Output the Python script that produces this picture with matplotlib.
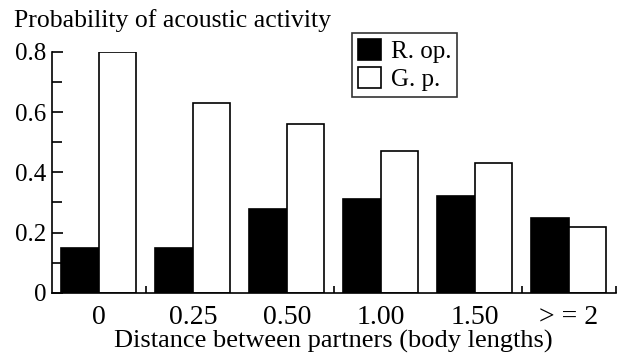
import numpy as np
import matplotlib.pyplot as plt
from matplotlib.ticker import MultipleLocator, FixedLocator

# data
categories = ["0", "0.25", "0.50", "1.00", "1.50", "> = 2"]
r_op = [0.15, 0.15, 0.28, 0.31, 0.32, 0.25]
g_p = [0.80, 0.63, 0.56, 0.47, 0.43, 0.22]

plt.rcParams['font.family'] = ['Liberation Serif', 'DejaVu Serif']

fig = plt.figure(figsize=(6.17, 3.58), dpi=100)
ax = fig.add_axes([0.084, 0.182, 0.914, 0.673])

x = np.arange(len(categories))
w = 0.4
ax.bar(x - w / 2, r_op, w, color="black", edgecolor="black", linewidth=1.2, label="R. op.")
ax.bar(x + w / 2, g_p, w, color="white", edgecolor="black", linewidth=1.2, label="G. p.")

ax.set_xlim(-0.5, 5.5)
ax.set_ylim(0, 0.8)
ax.spines['top'].set_visible(False)
ax.spines['right'].set_visible(False)
ax.spines['left'].set_linewidth(1.2)
ax.spines['bottom'].set_linewidth(1.2)

ax.set_yticks([0, 0.2, 0.4, 0.6, 0.8])
ax.set_yticklabels(["0", "0.2", "0.4", "0.6", "0.8"])
ax.yaxis.set_minor_locator(MultipleLocator(0.1))
ax.tick_params(axis='y', which='major', direction='in', length=8, width=1.2, labelsize=18, pad=4)
ax.tick_params(axis='y', which='minor', direction='in', length=7, width=1.2)

ax.set_xticks(x)
ax.set_xticklabels(categories)
ax.xaxis.set_minor_locator(FixedLocator([0.5, 2.5, 4.5, 5.5]))
ax.tick_params(axis='x', which='major', length=0, labelsize=20, pad=9)
ax.tick_params(axis='x', which='minor', direction='in', length=5, width=1.2)

ax.set_xlabel("Distance between partners (body lengths)", fontsize=19, labelpad=0)
fig.text(0.022, 0.944, "Probability of acoustic activity", fontsize=18.5, va="center")

leg = ax.legend(loc="upper left", bbox_to_anchor=(0.532, 1.079), fontsize=18,
                frameon=True, fancybox=False, edgecolor="black",
                handlelength=0.9, handleheight=0.9, handletextpad=0.4,
                borderpad=0.25, labelspacing=0.15, borderaxespad=0)
leg.get_frame().set_linewidth(1.2)

fig.savefig("out.png", dpi=100)
